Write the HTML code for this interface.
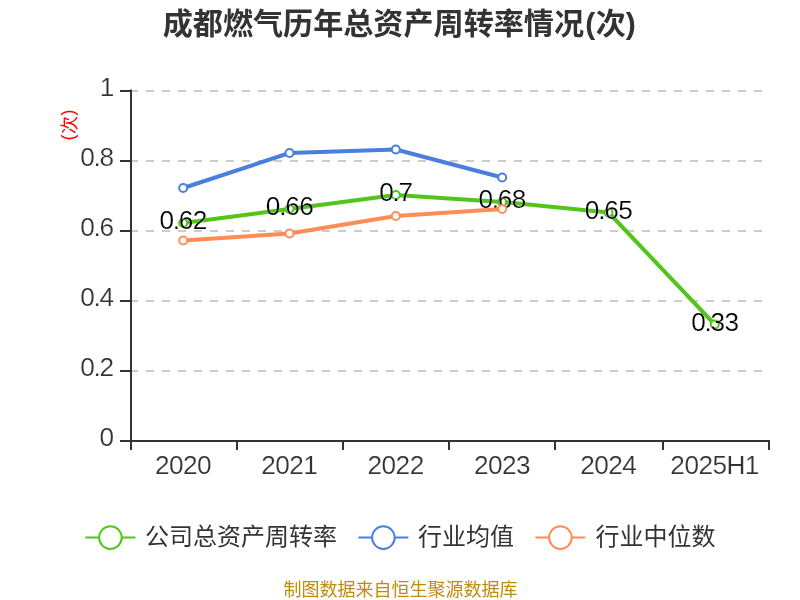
<!DOCTYPE html>
<html lang="zh-CN"><head><meta charset="utf-8"><title>成都燃气历年总资产周转率情况(次)</title>
<style>html,body{margin:0;padding:0;background:#fff;}body{width:800px;height:600px;overflow:hidden;}svg{display:block;}
text{font-family:"Liberation Sans","Noto Sans CJK SC",sans-serif;}
.cjk{font-family:"Liberation Sans","Noto Sans CJK SC",sans-serif;}
</style></head><body>
<svg width="800" height="600" viewBox="0 0 800 600">
<rect width="800" height="600" fill="#fff"/>
<text class="cjk" x="399.3" y="33.6" text-anchor="middle" font-size="30.1" font-weight="bold" fill="#333" dx="0 0 0 0 0 0 0 0 0 0 0 0 0 0 1.1 0.7 -0.1">成都燃气历年总资产周转率情况(次)</text>
<line x1="130" y1="371.0" x2="769" y2="371.0" stroke="#ccc" stroke-width="2" stroke-dasharray="8 8"/>
<line x1="130" y1="301.0" x2="769" y2="301.0" stroke="#ccc" stroke-width="2" stroke-dasharray="8 8"/>
<line x1="130" y1="231.0" x2="769" y2="231.0" stroke="#ccc" stroke-width="2" stroke-dasharray="8 8"/>
<line x1="130" y1="161.0" x2="769" y2="161.0" stroke="#ccc" stroke-width="2" stroke-dasharray="8 8"/>
<line x1="130" y1="91.0" x2="769" y2="91.0" stroke="#ccc" stroke-width="2" stroke-dasharray="8 8"/>
<line x1="131" y1="89.5" x2="131" y2="442" stroke="#333" stroke-width="2"/>
<line x1="130" y1="441" x2="770" y2="441" stroke="#333" stroke-width="2"/>
<line x1="120" y1="441.0" x2="131" y2="441.0" stroke="#333" stroke-width="2"/>
<text x="114" y="446.0" text-anchor="end" font-size="26.2" fill="#333" stroke="#fff" stroke-width="0.2">0</text>
<line x1="120" y1="371.0" x2="131" y2="371.0" stroke="#333" stroke-width="2"/>
<text x="114" y="376.0" text-anchor="end" font-size="26.2" fill="#333" stroke="#fff" stroke-width="0.2" dx="0 -1.3 -1.3">0.2</text>
<line x1="120" y1="301.0" x2="131" y2="301.0" stroke="#333" stroke-width="2"/>
<text x="114" y="306.0" text-anchor="end" font-size="26.2" fill="#333" stroke="#fff" stroke-width="0.2" dx="0 -1.3 -1.3">0.4</text>
<line x1="120" y1="231.0" x2="131" y2="231.0" stroke="#333" stroke-width="2"/>
<text x="114" y="236.0" text-anchor="end" font-size="26.2" fill="#333" stroke="#fff" stroke-width="0.2" dx="0 -1.3 -1.3">0.6</text>
<line x1="120" y1="161.0" x2="131" y2="161.0" stroke="#333" stroke-width="2"/>
<text x="114" y="166.0" text-anchor="end" font-size="26.2" fill="#333" stroke="#fff" stroke-width="0.2" dx="0 -1.3 -1.3">0.8</text>
<line x1="120" y1="91.0" x2="131" y2="91.0" stroke="#333" stroke-width="2"/>
<text x="114.4" y="96.0" text-anchor="end" font-size="26.2" fill="#333" stroke="#fff" stroke-width="0.2">1</text>
<line x1="131" y1="441" x2="131" y2="450" stroke="#333" stroke-width="2"/>
<line x1="237" y1="441" x2="237" y2="450" stroke="#333" stroke-width="2"/>
<line x1="343" y1="441" x2="343" y2="450" stroke="#333" stroke-width="2"/>
<line x1="449" y1="441" x2="449" y2="450" stroke="#333" stroke-width="2"/>
<line x1="555" y1="441" x2="555" y2="450" stroke="#333" stroke-width="2"/>
<line x1="663" y1="441" x2="663" y2="450" stroke="#333" stroke-width="2"/>
<line x1="769" y1="441" x2="769" y2="450" stroke="#333" stroke-width="2"/>
<text x="183.3" y="473.9" text-anchor="middle" font-size="26.2" fill="#333" stroke="#fff" stroke-width="0.2" dx="0 -0.55 -0.55 -0.55">2020</text>
<text x="289.6" y="473.9" text-anchor="middle" font-size="26.2" fill="#333" stroke="#fff" stroke-width="0.2" dx="0 -0.55 -0.55 -0.55">2021</text>
<text x="395.9" y="473.9" text-anchor="middle" font-size="26.2" fill="#333" stroke="#fff" stroke-width="0.2" dx="0 -0.55 -0.55 -0.55">2022</text>
<text x="502.3" y="473.9" text-anchor="middle" font-size="26.2" fill="#333" stroke="#fff" stroke-width="0.2" dx="0 -0.55 -0.55 -0.55">2023</text>
<text x="608.6" y="473.9" text-anchor="middle" font-size="26.2" fill="#333" stroke="#fff" stroke-width="0.2" dx="0 -0.55 -0.55 -0.55">2024</text>
<text x="714.9" y="473.9" text-anchor="middle" font-size="26.2" fill="#333" stroke="#fff" stroke-width="0.2" dx="0 -0.55 -0.55 -0.55 -0.55 -0.55">2025H1</text>
<text class="cjk" transform="translate(76,125) rotate(-90)" text-anchor="middle" font-size="18" fill="#f00" dx="0 0.5 0.5" dy="-2 2 -2">(次)</text>
<polyline points="183.2,223.0 289.5,209.0 395.8,195.0 502.2,202.0 608.5,212.5 714.8,324.5" fill="none" stroke="#52c41a" stroke-width="4" stroke-linejoin="bevel"/>
<circle cx="183.2" cy="223.0" r="4" fill="#fff" stroke="#52c41a" stroke-width="2"/>
<circle cx="289.5" cy="209.0" r="4" fill="#fff" stroke="#52c41a" stroke-width="2"/>
<circle cx="395.8" cy="195.0" r="4" fill="#fff" stroke="#52c41a" stroke-width="2"/>
<circle cx="502.2" cy="202.0" r="4" fill="#fff" stroke="#52c41a" stroke-width="2"/>
<circle cx="608.5" cy="212.5" r="4" fill="#fff" stroke="#52c41a" stroke-width="2"/>
<circle cx="714.8" cy="324.5" r="4" fill="#fff" stroke="#52c41a" stroke-width="2"/>
<text x="183.5" y="228.8" text-anchor="middle" font-size="26.2" fill="#000" stroke="#fff" stroke-width="0.2" dx="0 -1.3 -1.3 -0.55">0.62</text>
<text x="289.8" y="214.8" text-anchor="middle" font-size="26.2" fill="#000" stroke="#fff" stroke-width="0.2" dx="0 -1.3 -1.3 -0.55">0.66</text>
<text x="396.1" y="200.8" text-anchor="middle" font-size="26.2" fill="#000" stroke="#fff" stroke-width="0.2" dx="0 -1.3 -1.3">0.7</text>
<text x="502.5" y="207.8" text-anchor="middle" font-size="26.2" fill="#000" stroke="#fff" stroke-width="0.2" dx="0 -1.3 -1.3 -0.55">0.68</text>
<text x="608.8" y="218.8" text-anchor="middle" font-size="26.2" fill="#000" stroke="#fff" stroke-width="0.2" dx="0 -1.3 -1.3 -0.55">0.65</text>
<text x="715.1" y="330.8" text-anchor="middle" font-size="26.2" fill="#000" stroke="#fff" stroke-width="0.2" dx="0 -1.3 -1.3 -0.55">0.33</text>
<polyline points="183.2,188.0 289.5,153.0 395.8,149.5 502.2,177.5" fill="none" stroke="#4a7fe0" stroke-width="4" stroke-linejoin="bevel"/>
<circle cx="183.2" cy="188.0" r="4" fill="#fff" stroke="#4a7fe0" stroke-width="2"/>
<circle cx="289.5" cy="153.0" r="4" fill="#fff" stroke="#4a7fe0" stroke-width="2"/>
<circle cx="395.8" cy="149.5" r="4" fill="#fff" stroke="#4a7fe0" stroke-width="2"/>
<circle cx="502.2" cy="177.5" r="4" fill="#fff" stroke="#4a7fe0" stroke-width="2"/>
<polyline points="183.2,240.5 289.5,233.5 395.8,216.0 502.2,209.0" fill="none" stroke="#ff8c55" stroke-width="4" stroke-linejoin="bevel"/>
<circle cx="183.2" cy="240.5" r="4" fill="#fff" stroke="#ff8c55" stroke-width="2"/>
<circle cx="289.5" cy="233.5" r="4" fill="#fff" stroke="#ff8c55" stroke-width="2"/>
<circle cx="395.8" cy="216.0" r="4" fill="#fff" stroke="#ff8c55" stroke-width="2"/>
<circle cx="502.2" cy="209.0" r="4" fill="#fff" stroke="#ff8c55" stroke-width="2"/>
<line x1="85.4" y1="537.6" x2="135.4" y2="537.6" stroke="#52c41a" stroke-width="2"/>
<circle cx="110.4" cy="537.6" r="11.3" fill="#fff" stroke="#52c41a" stroke-width="2"/>
<text class="cjk" x="145" y="545" font-size="24" fill="#333">公司总资产周转率</text>
<line x1="358.4" y1="537.6" x2="408.4" y2="537.6" stroke="#4a7fe0" stroke-width="2"/>
<circle cx="383.4" cy="537.6" r="11.3" fill="#fff" stroke="#4a7fe0" stroke-width="2"/>
<text class="cjk" x="418" y="545" font-size="24" fill="#333">行业均值</text>
<line x1="535.4" y1="537.6" x2="585.4" y2="537.6" stroke="#ff8c55" stroke-width="2"/>
<circle cx="560.4" cy="537.6" r="11.3" fill="#fff" stroke="#ff8c55" stroke-width="2"/>
<text class="cjk" x="595.4" y="545" font-size="24" fill="#333">行业中位数</text>
<text class="cjk" x="400.5" y="596.3" text-anchor="middle" font-size="18" fill="#c08a10">制图数据来自恒生聚源数据库</text>
</svg></body></html>
